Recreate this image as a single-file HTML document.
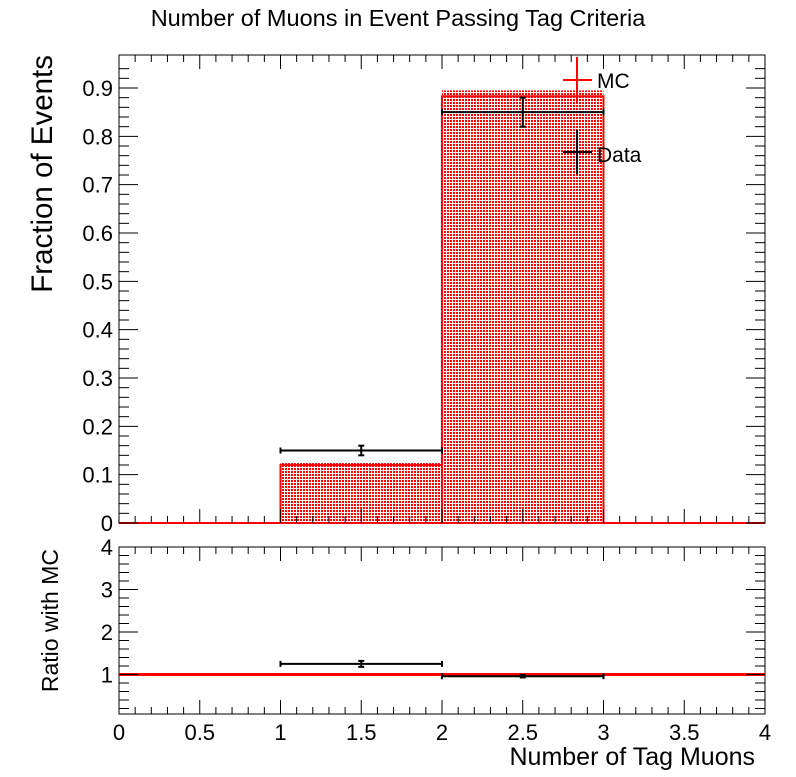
<!DOCTYPE html>
<html><head><meta charset="utf-8"><style>
body{margin:0;background:#fff;}
svg text{font-family:"Liberation Sans",sans-serif;}
</style></head><body>
<svg id="c" width="796" height="772" xmlns="http://www.w3.org/2000/svg">
<defs><pattern id="dots" width="3" height="3" patternUnits="userSpaceOnUse"><rect width="3" height="3" fill="#fff"/><rect width="2" height="2" fill="#ff0000"/></pattern></defs>
<rect width="796" height="772" fill="#fff"/>
<text x="398" y="26" text-anchor="middle" font-size="23.5">Number of Muons in Event Passing Tag Criteria</text>
<g id="g"></g>
</svg>
<script>
const binEdges=[1,2,3];
const mcValues=[0.12,0.883];
const mcErr=[0.004,0.012];
const dataValues=[0.15,0.85];
const dataErr=[0.01,0.03];
const ratioValues=[1.25,0.96];
const ratioErr=[0.07,0.03];
const yTicks=[0,0.1,0.2,0.3,0.4,0.5,0.6,0.7,0.8,0.9];
const xTicks=[0,0.5,1,1.5,2,2.5,3,3.5,4];
const rTicks=[1,2,3,4];
const NS="http://www.w3.org/2000/svg";
const g=document.getElementById('g');
const L=119,R=765,T=55,B=523,RT=547,RB=714;
const X=v=>L+(R-L)*v/4;
const Y=v=>B-v*(523-88)/0.9;
const YR=v=>717-v*42.5;
function el(t,a,p){const e=document.createElementNS(NS,t);for(const k in a)e.setAttribute(k,a[k]);(p||g).appendChild(e);return e;}
function line(x1,y1,x2,y2,c,w){return el('line',{x1,y1,x2,y2,stroke:c,'stroke-width':w});}
let f=el('rect',{x:L,y:T,width:R-L,height:B-T,fill:'none',stroke:'#000','stroke-width':1});

let f2=el('rect',{x:L,y:RT,width:R-L,height:RB-RT,fill:'none',stroke:'#000','stroke-width':1});

for(let i=0;i<mcValues.length;i++){
 const x1=X(binEdges[i]),x2=X(binEdges[i+1]);
 const b=el('rect',{x:x1,y:Y(mcValues[i]+mcErr[i]),width:x2-x1,height:B-Y(mcValues[i]+mcErr[i]),fill:'url(#dots)'});
 
 const rb=el('rect',{x:x1,y:YR(1+mcErr[i]/mcValues[i]),width:x2-x1,height:YR(1)-YR(1+mcErr[i]/mcValues[i]),fill:'url(#dots)'});
 
}
let d='M'+L+','+B;
for(let i=0;i<mcValues.length;i++){d+=' L'+X(binEdges[i])+','+B+' L'+X(binEdges[i])+','+Y(mcValues[i])+' L'+X(binEdges[i+1])+','+Y(mcValues[i]);}
d+=' L'+X(binEdges[binEdges.length-1])+','+B;
let o=el('path',{d,fill:'none',stroke:'#ff0000','stroke-width':2});

line(L,B,R,B,'#ff0000',2);
let rl=line(L,YR(1),R,YR(1),'#ff0000',3);

function pt(xc,x1,x2,y,ye1,ye2,name){
 const gg=el('g',{});
 el('line',{x1,y1:y,x2,y2:y,stroke:'#000','stroke-width':2},gg);
 el('line',{x1,y1:y-3,x2:x1,y2:y+3,stroke:'#000','stroke-width':2},gg);
 el('line',{x1:x2,y1:y-3,x2,y2:y+3,stroke:'#000','stroke-width':2},gg);
 el('line',{x1:xc,y1:ye1,x2:xc,y2:ye2,stroke:'#000','stroke-width':2},gg);
 el('line',{x1:xc-3,y1:ye1,x2:xc+3,y2:ye1,stroke:'#000','stroke-width':2},gg);
 el('line',{x1:xc-3,y1:ye2,x2:xc+3,y2:ye2,stroke:'#000','stroke-width':2},gg);
}
for(let i=0;i<dataValues.length;i++){
 const x1=X(binEdges[i]),x2=X(binEdges[i+1]),xc=(x1+x2)/2;
 pt(xc,x1,x2,Y(dataValues[i]),Y(dataValues[i]+dataErr[i]),Y(dataValues[i]-dataErr[i]),'data-point');
 pt(xc,x1,x2,YR(ratioValues[i]),YR(ratioValues[i]+ratioErr[i]),YR(ratioValues[i]-ratioErr[i]),'ratio-point');
}
for(let v=0;v<=0.96;v+=0.02){const y=Y(v);const maj=Math.abs(v*10-Math.round(v*10))<1e-6;line(L,y,L+(maj?19:10),y,'#000',1);line(R,y,R-(maj?19:10),y,'#000',1);}
yTicks.forEach(v=>{const t=el('text',{x:L-6,y:Y(v)+8,'text-anchor':'end','font-size':22});t.textContent=String(v);});
for(let v=0.2;v<=4.001;v+=0.2){const y=YR(v);if(y>RB)continue;const maj=Math.abs(v-Math.round(v))<1e-6;line(L,y,L+(maj?19:10),y,'#000',1);line(R,y,R-(maj?19:10),y,'#000',1);}
rTicks.forEach(v=>{const t=el('text',{x:L-6,y:YR(v)+8,'text-anchor':'end','font-size':22});t.textContent=String(v);});
for(let v=0;v<=4.001;v+=0.1){const x=X(v);const maj=Math.abs(v*2-Math.round(v*2))<1e-6;const h=maj?14:7;
 line(x,B,x,B-h,'#000',1);line(x,T,x,T+h,'#000',1);line(x,RB,x,RB-h,'#000',1);line(x,RT,x,RT+h,'#000',1);}
xTicks.forEach(v=>{const t=el('text',{x:X(v),y:740,'text-anchor':'middle','font-size':22});t.textContent=String(v);});
let yt=el('text',{x:0,y:0,'text-anchor':'end','font-size':29.5,transform:'translate(52,55) rotate(-90)'});yt.textContent='Fraction of Events';
let yt2=el('text',{x:0,y:0,'text-anchor':'end','font-size':23,transform:'translate(58,549) rotate(-90)'});yt2.textContent='Ratio with MC';
let xt=el('text',{x:755,y:765,'text-anchor':'end','font-size':25});xt.textContent='Number of Tag Muons';
const lg=el('g',{});
el('line',{x1:563,y1:80,x2:592,y2:80,stroke:'#ff0000','stroke-width':2},lg);
el('line',{x1:577,y1:57,x2:577,y2:102,stroke:'#ff0000','stroke-width':2},lg);
let t1=el('text',{x:597,y:88,'font-size':21},lg);t1.textContent='MC';
el('line',{x1:563,y1:152,x2:592,y2:152,stroke:'#000','stroke-width':2},lg);
el('line',{x1:577,y1:130,x2:577,y2:174,stroke:'#000','stroke-width':2},lg);
let t2=el('text',{x:597,y:162,'font-size':21},lg);t2.textContent='Data';
</script>
</body></html>
